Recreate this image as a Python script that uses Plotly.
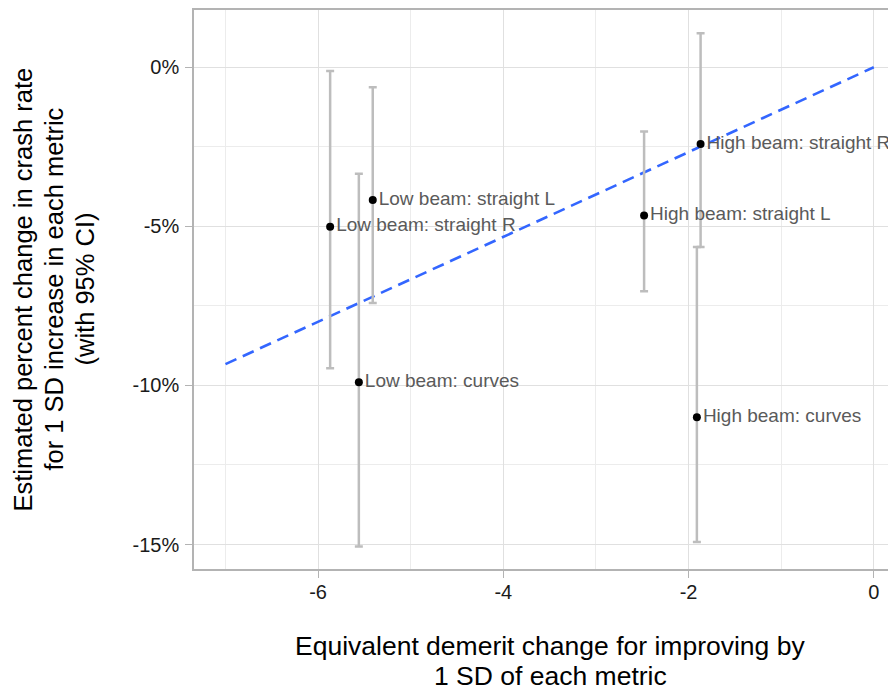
import plotly.graph_objects as go

# Data
labels = ["Low beam: straight R", "Low beam: straight L", "Low beam: curves",
          "High beam: straight L", "High beam: straight R", "High beam: curves"]
demerit = [-5.87, -5.41, -5.56, -2.48, -1.87, -1.91]
pct_change = [-5.01, -4.17, -9.90, -4.66, -2.41, -11.00]
ci_upper = [-0.12, -0.63, -3.35, -2.02, 1.07, -5.65]
ci_lower = [-9.46, -7.41, -15.06, -7.04, -5.65, -14.92]

fit_x = [-7.0, 0.0]
fit_y = [-9.33, 0.0]

x_tickvals = [-6, -4, -2, 0]
x_ticktext = ["-6", "-4", "-2", "0"]
y_tickvals = [0, -5, -10, -15]
y_ticktext = ["0%", "-5%", "-10%", "-15%"]

x_title_lines = ["Equivalent demerit change for improving by", "1 SD of each metric"]
y_title_lines = ["Estimated percent change in crash rate",
                 "for 1 SD increase in each metric",
                 "(with 95% CI)"]

err_plus = [u - v for u, v in zip(ci_upper, pct_change)]
err_minus = [v - l for v, l in zip(pct_change, ci_lower)]

FONT = "Liberation Sans, Arial, sans-serif"

fig = go.Figure()

fig.add_trace(go.Scatter(
    x=fit_x, y=fit_y, mode="lines",
    line=dict(color="#3366FF", width=2.6, dash="12px,7px"),
    hoverinfo="skip", showlegend=False,
))

fig.add_trace(go.Scatter(
    x=demerit, y=pct_change, mode="markers+text",
    text=labels, textposition="middle right",
    textfont=dict(family=FONT, size=19, color="#5a5a5a"),
    marker=dict(color="black", size=8),
    error_y=dict(type="data", symmetric=False, array=err_plus, arrayminus=err_minus,
                 color="#bdbdbd", thickness=2.5, width=4),
    showlegend=False,
))

grid_major = "#e0e0e0"
grid_minor = "#ececec"
border = "#b3b3b3"

annotations = []
# x-axis title, one annotation per line
for i, line in enumerate(x_title_lines):
    annotations.append(dict(
        text=line, xref="paper", yref="paper", x=0.5, y=0,
        xshift=5, yshift=-77 - 30 * i,
        xanchor="center", yanchor="middle", showarrow=False,
        font=dict(family=FONT, size=26.5, color="black"),
    ))
# y-axis title, one annotation per line (rotated)
for i, line in enumerate(y_title_lines):
    annotations.append(dict(
        text=line, xref="paper", yref="paper", x=0, y=0.5,
        xshift=-(186 - 14) + 31 * i, yshift=0,
        xanchor="center", yanchor="middle", textangle=-90, showarrow=False,
        font=dict(family=FONT, size=25.5, color="black"),
    ))

fig.update_layout(
    width=888, height=685,
    margin=dict(l=186, r=0, t=2, b=124),
    paper_bgcolor="white", plot_bgcolor="white",
    font=dict(family=FONT, color="#1a1a1a"),
    annotations=annotations,
    xaxis=dict(
        range=[-7.34, 0.24],
        tickmode="array", tickvals=x_tickvals, ticktext=x_ticktext,
        tickfont=dict(size=20, color="#1a1a1a"),
        ticks="outside", ticklen=7, tickcolor=border, tickwidth=1,
        ticklabelstandoff=-3,
        showgrid=True, gridcolor=grid_major, gridwidth=1,
        minor=dict(tickvals=[-7, -5, -3, -1], showgrid=True, gridcolor=grid_minor, gridwidth=1, ticks=""),
        showline=True, linecolor=border, linewidth=1.5, mirror=True,
        zeroline=False,
        automargin=False,
    ),
    yaxis=dict(
        range=[-15.77, 1.80],
        tickmode="array", tickvals=y_tickvals, ticktext=y_ticktext,
        tickfont=dict(size=20, color="#1a1a1a"),
        ticks="outside", ticklen=7, tickcolor=border, tickwidth=1,
        ticklabelstandoff=2,
        showgrid=True, gridcolor=grid_major, gridwidth=1,
        minor=dict(tickvals=[-2.5, -7.5, -12.5], showgrid=True, gridcolor=grid_minor, gridwidth=1, ticks=""),
        showline=True, linecolor=border, linewidth=1.5, mirror=False,
        zeroline=False,
        automargin=False,
    ),
)

fig.write_html("out.html")
